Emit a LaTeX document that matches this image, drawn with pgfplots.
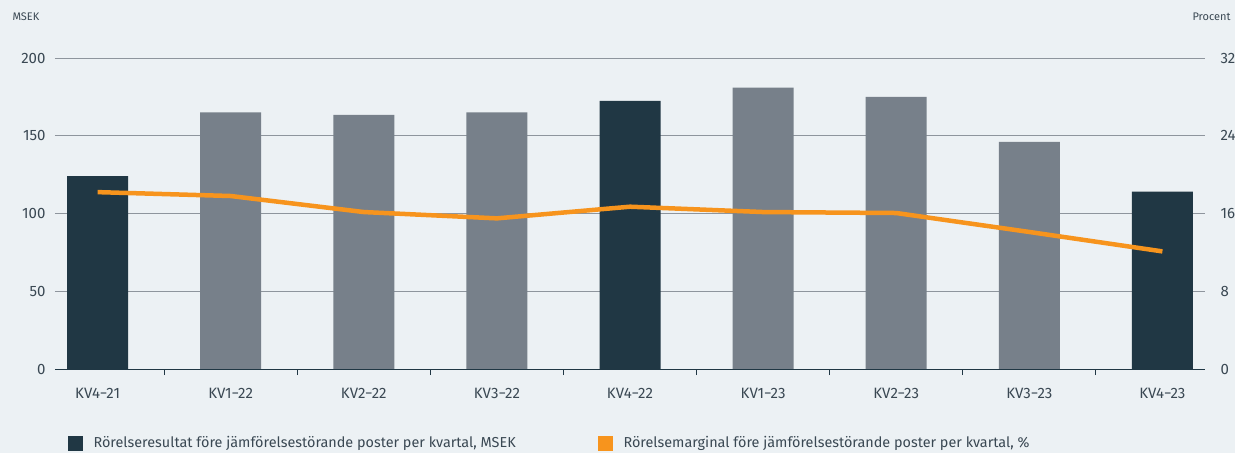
\documentclass[border=0pt]{standalone}
\usepackage{pgfplots}
\pgfplotsset{compat=1.18}
\usepackage{fontspec}
\setmainfont{Fira Sans}
\definecolor{bg}{HTML}{ECF1F4}
\definecolor{navy}{HTML}{203744}
\definecolor{barg}{HTML}{77808A}
\definecolor{orng}{HTML}{F7941D}
\definecolor{txt}{HTML}{3A4853}
\definecolor{grd}{HTML}{8E959D}
\begin{document}
\begin{tikzpicture}[font=\fontsize{14.4pt}{16pt}\selectfont, text=txt]
\fill[bg, use as bounding box] (-55pt,-84pt) rectangle (1180pt,369pt);
\pgfplotsset{
  base/.style={
    at={(0,0)}, anchor=south west, scale only axis,
    width=1150pt, height=311pt,
    xmin=-0.32, xmax=8.32,
    /pgf/number format/assume math mode=true,
    tick label style={font=\fontsize{15pt}{17pt}\selectfont, text=txt},
  }
}
\begin{axis}[base,
  ymin=0, ymax=200, ytick={0,50,100,150,200},
  axis x line=none, axis y line*=left, y axis line style={draw=none},
  major tick length=0pt,
  ymajorgrids, grid style={grd, line width=0.9pt},
  yticklabel style={xshift=-6pt},
  ybar, bar width=61pt,
]
\addplot[fill=navy, draw=none, bar shift=0pt] coordinates {(0,124) (4,172.5) (8,114)};
\addplot[fill=barg, draw=none, bar shift=0pt] coordinates {(1,165) (2,163.5) (3,165) (5,181) (6,175) (7,146)};
\end{axis}
\begin{axis}[base,
  ymin=0, ymax=32, ytick={0,8,16,24,32},
  axis y line*=right, y axis line style={draw=none},
  axis x line*=bottom, x axis line style={draw=navy, line width=0.9pt},
  xtick={0.5,1.5,...,7.5}, xticklabels={},
  extra x ticks={0,1,2,3,4,5,6,7,8},
  extra x tick labels={KV4−21,KV1−22,KV2−22,KV3−22,KV4−22,KV1−23,KV2−23,KV3−23,KV4−23},
  extra x tick style={major tick length=0pt, tick label style={yshift=-16pt}},
  xtick style={draw=navy, line width=1pt},
  major tick length=6pt, tick align=outside,
  ytick style={draw=none},
  yticklabel style={xshift=6pt},
]
\addplot[orng, line width=4.5pt, line join=round] coordinates {(0,18.2) (1,17.8) (2,16.15) (3,15.5) (4,16.7) (5,16.15) (6,16.05) (7,14.1) (8,12.1)};
\end{axis}
\node[anchor=west, font=\fontsize{11pt}{13pt}\selectfont] at (-46pt,352pt) {MSEK};
\node[anchor=east, font=\fontsize{11pt}{13pt}\selectfont] at (1179pt,352pt) {Procent};
\fill[navy] (13pt,-67pt) rectangle (28pt,-82pt);
\node[anchor=west] at (35pt,-74.5pt) {Rörelseresultat före jämförelsestörande poster per kvartal, MSEK};
\fill[orng] (543pt,-67pt) rectangle (558pt,-82pt);
\node[anchor=west] at (565pt,-74.5pt) {Rörelsemarginal före jämförelsestörande poster per kvartal, \%};
\end{tikzpicture}
\end{document}
